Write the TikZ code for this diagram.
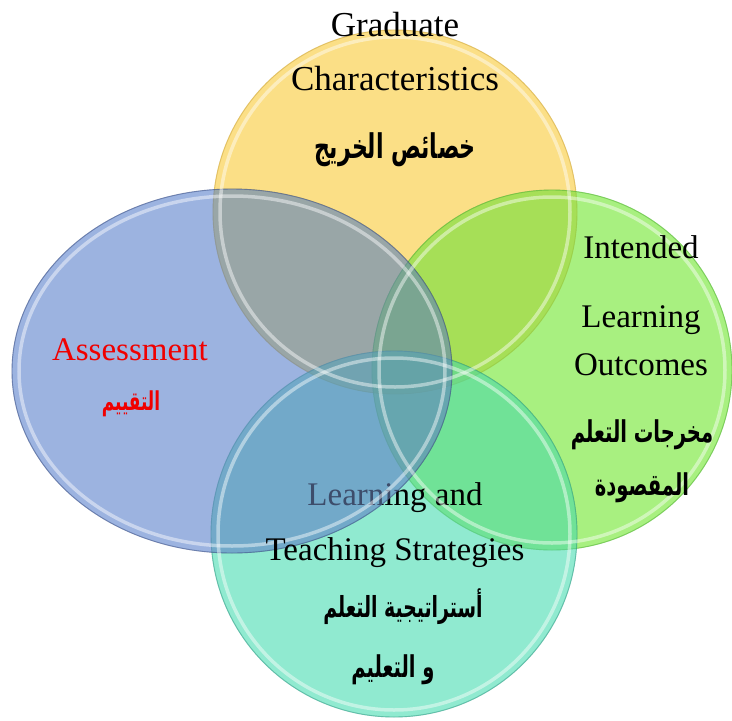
\documentclass[tikz,border=0pt]{standalone}
\usepackage{fontspec}
\setmainfont{Liberation Serif}
\newfontfamily\arabicfont[Script=Arabic, FakeStretch=0.65]{DejaVu Sans}
\TeXXeTstate=1
\usetikzlibrary{shapes.geometric}
\definecolor{gradfill}{RGB}{250,212,94}
\definecolor{gradline}{RGB}{215,180,80}
\definecolor{assfill}{RGB}{123,154,214}
\definecolor{assline}{RGB}{80,100,150}
\definecolor{ilofill}{RGB}{139,235,86}
\definecolor{iloline}{RGB}{100,190,70}
\definecolor{ltsfill}{RGB}{107,227,192}
\definecolor{ltsline}{RGB}{70,170,150}
\definecolor{assred}{RGB}{240,0,0}
\newcommand\arsize[1]{\arabicfont\bfseries\fontsize{#1}{#1}\selectfont}

\begin{document}
\begin{tikzpicture}[x=1pt, y=-1pt,
  disc/.style={inner sep=0pt, line width=.9pt},
  gloss/.style={white, opacity=.45, line width=3.5pt},
  entxt/.style={anchor=base, inner sep=0pt, font=\fontsize{33}{36}\selectfont},
  artxt/.style={inner sep=0pt, font=\arsize{30}}]
\useasboundingbox (0,0) rectangle (732,721);
\foreach \shp/\nm/\x/\y/\w/\h in {circle/grad/395/212/364/364, circle/ilo/552/370/360/360, circle/lts/394/534/366/366}
  \foreach \bm in {multiply, normal}
    \scoped[blend mode=\bm, opacity=.5] \node[\shp, disc, fill=\nm fill, draw=\nm line, minimum width=\w pt, minimum height=\h pt] (\nm) at (\x,\y) {};
\node[entxt] (ltsA) at (395,505) {Learning and};
\foreach \bm in {multiply, normal}
  \scoped[blend mode=\bm, opacity=.5] \node[ellipse, disc, fill=assfill, draw=assline, minimum width=440pt, minimum height=364pt] (ass) at (232,371) {};
\draw[gloss] (grad.center) circle (175);
\draw[gloss] (ilo.center) circle (173);
\draw[gloss] (lts.center) circle (176);
\draw[gloss] (ass.center) ellipse (213 and 175);

\node[entxt, font=\fontsize{35}{38}\selectfont] (gradA) at (395,36) {Graduate};
\node[entxt, font=\fontsize{35}{38}\selectfont] (gradB) at (395,90) {Characteristics};
\node[artxt, font=\arsize{34}] (gradC) at (395,150) {\beginR خصائص الخريج\endR};

\node[entxt, text=assred] (assA) at (130,360) {Assessment};
\node[artxt, font=\arsize{26}, text=assred] (assB) at (131,404) {\beginR التقييم\endR};

\node[entxt] (iloA) at (641,258) {Intended};
\node[entxt] (iloB) at (641,327) {Learning};
\node[entxt] (iloC) at (641,375) {Outcomes};
\node[artxt] (iloD) at (642,435) {\beginR مخرجات التعلم\endR};
\node[artxt] (iloE) at (642,488) {\beginR المقصودة\endR};

\node[entxt] (ltsB) at (395,560) {Teaching Strategies};
\node[artxt, font=\arsize{29}] (ltsC) at (403,607) {\beginR أستراتيجية التعلم\endR};
\node[artxt] (ltsD) at (393,670) {\beginR و التعليم\endR};
\end{tikzpicture}
\end{document}
